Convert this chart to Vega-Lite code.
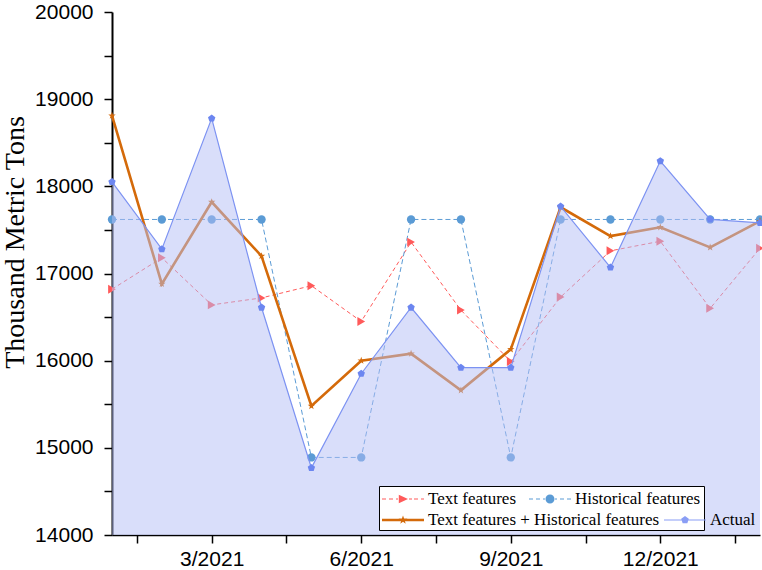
{
  "$schema": "https://vega.github.io/schema/vega-lite/v6.json",
  "width": 648,
  "height": 523,
  "autosize": "none",
  "padding": {"left": 112, "top": 12, "right": 2, "bottom": 35},
  "background": "white",
  "config": {"view": {"stroke": null}, "axis": {"grid": false}},
  "data": {"values": [
    {"m":0,"s":"Text features","v":16820},{"m":1,"s":"Text features","v":17180},{"m":2,"s":"Text features","v":16640},{"m":3,"s":"Text features","v":16720},{"m":4,"s":"Text features","v":16860},{"m":5,"s":"Text features","v":16450},{"m":6,"s":"Text features","v":17360},{"m":7,"s":"Text features","v":16580},{"m":8,"s":"Text features","v":15990},{"m":9,"s":"Text features","v":16730},{"m":10,"s":"Text features","v":17260},{"m":11,"s":"Text features","v":17370},{"m":12,"s":"Text features","v":16600},{"m":13,"s":"Text features","v":17290},
    {"m":0,"s":"Historical features","v":17620},{"m":1,"s":"Historical features","v":17620},{"m":2,"s":"Historical features","v":17620},{"m":3,"s":"Historical features","v":17620},{"m":4,"s":"Historical features","v":14890},{"m":5,"s":"Historical features","v":14890},{"m":6,"s":"Historical features","v":17620},{"m":7,"s":"Historical features","v":17620},{"m":8,"s":"Historical features","v":14890},{"m":9,"s":"Historical features","v":17620},{"m":10,"s":"Historical features","v":17620},{"m":11,"s":"Historical features","v":17620},{"m":12,"s":"Historical features","v":17620},{"m":13,"s":"Historical features","v":17620},
    {"m":0,"s":"Text features + Historical features","v":18810},{"m":1,"s":"Text features + Historical features","v":16880},{"m":2,"s":"Text features + Historical features","v":17820},{"m":3,"s":"Text features + Historical features","v":17200},{"m":4,"s":"Text features + Historical features","v":15480},{"m":5,"s":"Text features + Historical features","v":16000},{"m":6,"s":"Text features + Historical features","v":16080},{"m":7,"s":"Text features + Historical features","v":15660},{"m":8,"s":"Text features + Historical features","v":16130},{"m":9,"s":"Text features + Historical features","v":17760},{"m":10,"s":"Text features + Historical features","v":17430},{"m":11,"s":"Text features + Historical features","v":17530},{"m":12,"s":"Text features + Historical features","v":17300},{"m":13,"s":"Text features + Historical features","v":17600},
    {"m":0,"s":"Actual","v":18050},{"m":1,"s":"Actual","v":17280},{"m":2,"s":"Actual","v":18780},{"m":3,"s":"Actual","v":16610},{"m":4,"s":"Actual","v":14770},{"m":5,"s":"Actual","v":15850},{"m":6,"s":"Actual","v":16610},{"m":7,"s":"Actual","v":15920},{"m":8,"s":"Actual","v":15920},{"m":9,"s":"Actual","v":17770},{"m":10,"s":"Actual","v":17070},{"m":11,"s":"Actual","v":18290},{"m":12,"s":"Actual","v":17620},{"m":13,"s":"Actual","v":17580}
  ]},
  "encoding": {
    "x": {
      "field": "m", "type": "quantitative",
      "scale": {"domain": [0, 13], "nice": false, "zero": false},
      "axis": {
        "title": null,
        "values": [0.5, 2, 3.5, 5, 6.5, 8, 9.5, 11, 12.5],
        "labelExpr": "datum.value == 2 ? '3/2021' : datum.value == 5 ? '6/2021' : datum.value == 8 ? '9/2021' : datum.value == 11 ? '12/2021' : ''",
        "labelFont": "Liberation Sans", "labelFontSize": 21, "labelColor": "black",
        "labelPadding": 5, "labelFlush": false, "labelOverlap": false,
        "domainColor": "black", "domainWidth": 1.5,
        "tickColor": "black", "tickWidth": 1.5, "tickSize": 8,
        "encode": {"ticks": {"update": {"y2": {"signal": "(datum.value - 2) % 3 === 0 ? 8 : 5"}}}}
      }
    },
    "y": {
      "field": "v", "type": "quantitative",
      "scale": {"domain": [14000, 20000], "nice": false, "zero": false},
      "axis": {
        "title": "Thousand Metric Tons",
        "titleFont": "Liberation Serif", "titleFontSize": 28, "titleFontWeight": "normal", "titleColor": "black",
        "titleX": -89, "titleY": 230, "titleAngle": 270, "titleAlign": "center", "titleBaseline": "alphabetic",
        "values": [14000, 14500, 15000, 15500, 16000, 16500, 17000, 17500, 18000, 18500, 19000, 19500, 20000],
        "format": "d",
        "labelExpr": "datum.value % 1000 === 0 ? datum.label : ''",
        "labelFont": "Liberation Sans", "labelFontSize": 21, "labelColor": "black",
        "labelPadding": 11, "labelOverlap": false, "labelFlush": false,
        "domainColor": "black", "domainWidth": 2,
        "tickColor": "black", "tickWidth": 1.5, "tickSize": 8,
        "encode": {"ticks": {"update": {"x2": {"signal": "datum.value % 1000 === 0 ? -8 : -5"}}}}
      }
    }
  },
  "resolve": {"scale": {"color": "independent", "shape": "independent", "size": "independent"}},
  "layer": [
    {
      "transform": [{"filter": "datum.s === 'Text features'"}],
      "mark": {"type": "line", "color": "#FF5A5A", "strokeWidth": 1, "strokeDash": [4, 3]},
      "encoding": {}
    },
    {
      "transform": [{"filter": "datum.s === 'Historical features'"}],
      "mark": {"type": "line", "color": "#5B9BD5", "strokeWidth": 1, "strokeDash": [5, 3]},
      "encoding": {}
    },
    {
      "transform": [{"filter": "datum.s === 'Text features + Historical features'"}],
      "mark": {"type": "line", "color": "#D46A0A", "strokeWidth": 2.6},
      "encoding": {}
    },
    {
      "transform": [{"filter": "datum.s !== 'Actual'"}],
      "mark": {"type": "point", "filled": true, "opacity": 1},
      "encoding": {
        "color": {"field": "s", "type": "nominal", "legend": null,
          "scale": {"domain": ["Text features", "Historical features", "Text features + Historical features"], "range": ["#FF5A5A", "#5B9BD5", "#D46A0A"]}},
        "shape": {"field": "s", "type": "nominal", "legend": null,
          "scale": {"domain": ["Text features", "Historical features", "Text features + Historical features"], "range": ["triangle-right", "circle", "M0,-1L0.235,-0.324L0.951,-0.309L0.38,0.124L0.588,0.809L0,0.4L-0.588,0.809L-0.38,0.124L-0.951,-0.309L-0.235,-0.324Z"]}},
        "size": {"field": "s", "type": "nominal", "legend": null,
          "scale": {"domain": ["Text features", "Historical features", "Text features + Historical features"], "range": [80, 60, 100]}}
      }
    },
    {
      "transform": [{"filter": "datum.s === 'Actual'"}],
      "mark": {"type": "area", "color": "#B4BEF5", "opacity": 0.5},
      "encoding": {"y2": {"datum": 14000}}
    },
    {
      "transform": [{"filter": "datum.s === 'Actual'"}],
      "mark": {"type": "line", "color": "#7C92F2", "strokeWidth": 1.2},
      "encoding": {}
    },
    {
      "transform": [{"filter": "datum.s === 'Actual'"}],
      "mark": {"type": "point", "filled": true, "opacity": 1, "color": "#6C86F0", "size": 60,
        "shape": "M0,-1L0.951,-0.309L0.588,0.809L-0.588,0.809L-0.951,-0.309Z"},
      "encoding": {}
    },
    {
      "transform": [{"filter": "false"}],
      "mark": {"type": "point", "filled": true, "opacity": 1},
      "encoding": {
        "color": {"field": "s", "type": "nominal",
          "scale": {"domain": ["Text features", "Historical features"], "range": ["#FF5A5A", "#5B9BD5"]},
          "legend": {"orient": "none", "legendX": 267, "legendY": 474, "direction": "horizontal",
            "title": "\u00a0\u00a0\u00a0\u00a0\u00a0\u00a0\u00a0\u00a0\u00a0\u00a0\u00a0\u00a0\u00a0\u00a0\u00a0\u00a0\u00a0\u00a0\u00a0\u00a0\u00a0\u00a0\u00a0\u00a0\u00a0\u00a0\u00a0\u00a0\u00a0\u00a0\u00a0\u00a0\u00a0\u00a0\u00a0\u00a0\u00a0\u00a0\u00a0\u00a0\u00a0\u00a0\u00a0\u00a0\u00a0\u00a0\u00a0\u00a0\u00a0\u00a0\u00a0\u00a0\u00a0\u00a0\u00a0\u00a0\u00a0\u00a0\u00a0\u00a0\u00a0\u00a0\u00a0\u00a0\u00a0\u00a0\u00a0\u00a0\u00a0\u00a0\u00a0\u00a0\u00a0\u00a0\u00a0\u00a0\u00a0\u00a0\u00a0",
            "titleOrient": "bottom", "titleFont": "Liberation Serif", "titleFontSize": 19, "titleLimit": 1000, "titlePadding": 1,
            "labelFont": "Liberation Serif", "labelFontSize": 17, "labelColor": "black", "labelLimit": 400,
            "symbolSize": 400, "symbolStrokeWidth": 0, "symbolOffset": 11, "labelOffset": 15, "columnPadding": 12,
            "padding": 3, "strokeColor": "black", "fillColor": "white"}},
        "shape": {"field": "s", "type": "nominal",
          "scale": {"domain": ["Text features", "Historical features"],
            "range": [
              "M-2.1,-0.05H-1.7V0.05H-2.1Z M-1.4,-0.05H-1V0.05H-1.4Z M-0.7,-0.05H-0.5V0.05H-0.7Z M-0.42,-0.42L0.5,0L-0.42,0.42Z M0.6,-0.05H0.9V0.05H0.6Z M1.1,-0.05H1.5V0.05H1.1Z M1.8,-0.05H2.1V0.05H1.8Z",
              "M-2.1,-0.05H-1.7V0.05H-2.1Z M-1.4,-0.05H-1V0.05H-1.4Z M-0.7,-0.05H-0.5V0.05H-0.7Z M0.45,0A0.45,0.45,0,1,1,-0.45,0A0.45,0.45,0,1,1,0.45,0Z M0.5,-0.05H0.7V0.05H0.5Z M1,-0.05H1.4V0.05H1Z M1.7,-0.05H2.1V0.05H1.7Z"
            ]},
          "legend": {"orient": "none", "legendX": 267, "legendY": 474, "direction": "horizontal",
            "title": "\u00a0\u00a0\u00a0\u00a0\u00a0\u00a0\u00a0\u00a0\u00a0\u00a0\u00a0\u00a0\u00a0\u00a0\u00a0\u00a0\u00a0\u00a0\u00a0\u00a0\u00a0\u00a0\u00a0\u00a0\u00a0\u00a0\u00a0\u00a0\u00a0\u00a0\u00a0\u00a0\u00a0\u00a0\u00a0\u00a0\u00a0\u00a0\u00a0\u00a0\u00a0\u00a0\u00a0\u00a0\u00a0\u00a0\u00a0\u00a0\u00a0\u00a0\u00a0\u00a0\u00a0\u00a0\u00a0\u00a0\u00a0\u00a0\u00a0\u00a0\u00a0\u00a0\u00a0\u00a0\u00a0\u00a0\u00a0\u00a0\u00a0\u00a0\u00a0\u00a0\u00a0\u00a0\u00a0\u00a0\u00a0\u00a0\u00a0",
            "titleOrient": "bottom", "titleFont": "Liberation Serif", "titleFontSize": 19, "titleLimit": 1000, "titlePadding": 1,
            "labelFont": "Liberation Serif", "labelFontSize": 17, "labelColor": "black", "labelLimit": 400,
            "symbolSize": 400, "symbolStrokeWidth": 0, "symbolOffset": 11, "labelOffset": 15, "columnPadding": 12,
            "padding": 3, "strokeColor": "black", "fillColor": "white"}}
      }
    },
    {
      "transform": [{"filter": "false"}],
      "mark": {"type": "point", "filled": true, "opacity": 1},
      "encoding": {
        "color": {"field": "s", "type": "nominal",
          "scale": {"domain": ["Text features + Historical features", "Actual"], "range": ["#D46A0A", "#8A9EF5"]},
          "legend": {"orient": "none", "legendX": 267, "legendY": 495, "direction": "horizontal", "title": null,
            "labelFont": "Liberation Serif", "labelFontSize": 17, "labelColor": "black", "labelLimit": 400,
            "symbolSize": 400, "symbolStrokeWidth": 0, "symbolOffset": 11, "labelOffset": 15, "columnPadding": 4,
            "padding": 3}},
        "shape": {"field": "s", "type": "nominal",
          "scale": {"domain": ["Text features + Historical features", "Actual"],
            "range": [
              "M-2.1,-0.13H2.1V0.13H-2.1Z M0,-0.46L0.108,-0.149L0.437,-0.142L0.175,0.057L0.27,0.372L0,0.184L-0.27,0.372L-0.175,0.057L-0.437,-0.142L-0.108,-0.149Z",
              "M-2.1,-0.06H2.1V0.06H-2.1Z M0,-0.4L0.38,-0.124L0.235,0.324L-0.235,0.324L-0.38,-0.124Z"
            ]},
          "legend": {"orient": "none", "legendX": 267, "legendY": 495, "direction": "horizontal", "title": null,
            "labelFont": "Liberation Serif", "labelFontSize": 17, "labelColor": "black", "labelLimit": 400,
            "symbolSize": 400, "symbolStrokeWidth": 0, "symbolOffset": 11, "labelOffset": 15, "columnPadding": 4,
            "padding": 3}}
      }
    }
  ]
}
